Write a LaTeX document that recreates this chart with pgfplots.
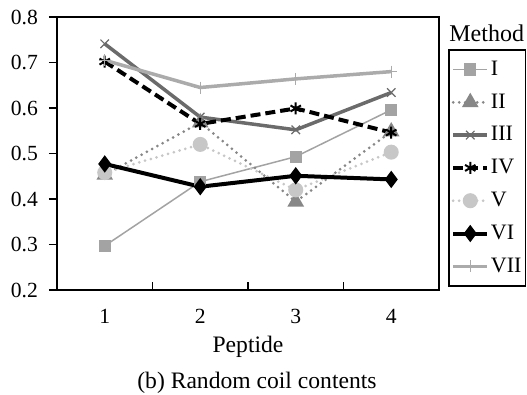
\documentclass[border=0pt]{standalone}
\usepackage{fontspec}
\setmainfont{Liberation Serif}
\usepackage{pgfplots}
\pgfplotsset{compat=1.18}
\definecolor{cI}{gray}{0.64}
\definecolor{cII}{gray}{0.53}
\definecolor{cIII}{gray}{0.42}
\definecolor{cV}{gray}{0.78}
\definecolor{cVII}{gray}{0.67}
\begin{document}
\begin{tikzpicture}
\useasboundingbox (-28.5pt,-52.5pt) rectangle (235pt,145pt);
\begin{axis}[
  scale only axis, width=191pt, height=136.5pt,
  at={(0,0)}, anchor=south west,
  xmin=0.5, xmax=4.5, ymin=0.2, ymax=0.8,
  /pgf/number format/assume math mode=true,
  ytick={0.2,0.3,0.4,0.5,0.6,0.7,0.8},
  yticklabel style={xshift=-2pt, /pgf/number format/fixed, /pgf/number format/fixed zerofill, /pgf/number format/precision=1},
  xtick={1.5,2.5,3.5}, xticklabels={},
  extra x ticks={1,2,3,4},
  extra x tick style={major tick length=0pt},
  xtick pos=bottom, ytick pos=left,
  xtick align=inside, ytick align=outside,
  major tick length=4pt,
  tick style={black, line width=0.8pt},
  axis line style={line width=1pt},
  ticklabel style={font=\fontsize{10.8}{12}\selectfont},
  xticklabel style={yshift=-6pt},
  xlabel={Peptide},
  xlabel style={at={(axis description cs:0.5,-0.209)}, anchor=center, font=\fontsize{11.8}{14}\selectfont},
  legend style={at={(1.0236,0.8828)}, anchor=north west, draw=black, line width=0.8pt,
    font=\fontsize{11}{13}\selectfont, row sep=3.7pt, inner ysep=3.5pt, inner xsep=1.2pt,
    nodes={inner xsep=0.8pt},
    cells={anchor=west}},
  legend cell align=left,
]
\addplot[cI, line width=0.75pt, mark=square*, mark size=2.7pt, mark options={fill=cI}]
  coordinates {(1,0.297) (2,0.438) (3,0.493) (4,0.596)};
\addlegendentry{I}
\addplot[cII, line width=1.5pt, line cap=round, dash pattern=on 0pt off 3pt, mark=triangle*, mark size=3.3pt, mark options={solid, fill=cII}]
  coordinates {(1,0.453) (2,0.568) (3,0.394) (4,0.548)};
\addlegendentry{II}
\addplot[cIII, line width=1.75pt, mark=x, mark size=3pt, mark options={solid, line width=0.6pt}]
  coordinates {(1,0.741) (2,0.580) (3,0.552) (4,0.634)};
\addlegendentry{III}
\addplot[black, line width=2pt, dash pattern=on 5pt off 2.5pt, mark=asterisk, mark size=3pt, mark options={solid, line width=1pt}]
  coordinates {(1,0.702) (2,0.565) (3,0.599) (4,0.546)};
\addlegendentry{IV}
\addplot[cV, line width=1.5pt, line cap=round, dash pattern=on 0pt off 3pt, mark=*, mark size=3pt, mark options={solid, fill=cV}]
  coordinates {(1,0.458) (2,0.520) (3,0.420) (4,0.503)};
\addlegendentry{V}
\addplot[black, line width=2pt, mark=diamond*, mark size=2.7pt, mark options={solid, fill=black}]
  coordinates {(1,0.477) (2,0.427) (3,0.451) (4,0.443)};
\addlegendentry{VI}
\addplot[cVII, line width=1.75pt, mark=+, mark size=3pt, mark options={solid, line width=0.6pt}]
  coordinates {(1,0.705) (2,0.645) (3,0.664) (4,0.680)};
\addlegendentry{VII}
\end{axis}
\node[anchor=west, inner sep=0pt, font=\fontsize{12}{14}\selectfont] at (196pt,128.5pt) {Method};
\node[font=\fontsize{11.8}{14}\selectfont] at (100pt,-46.5pt) {(b) Random coil contents};
\end{tikzpicture}
\end{document}
